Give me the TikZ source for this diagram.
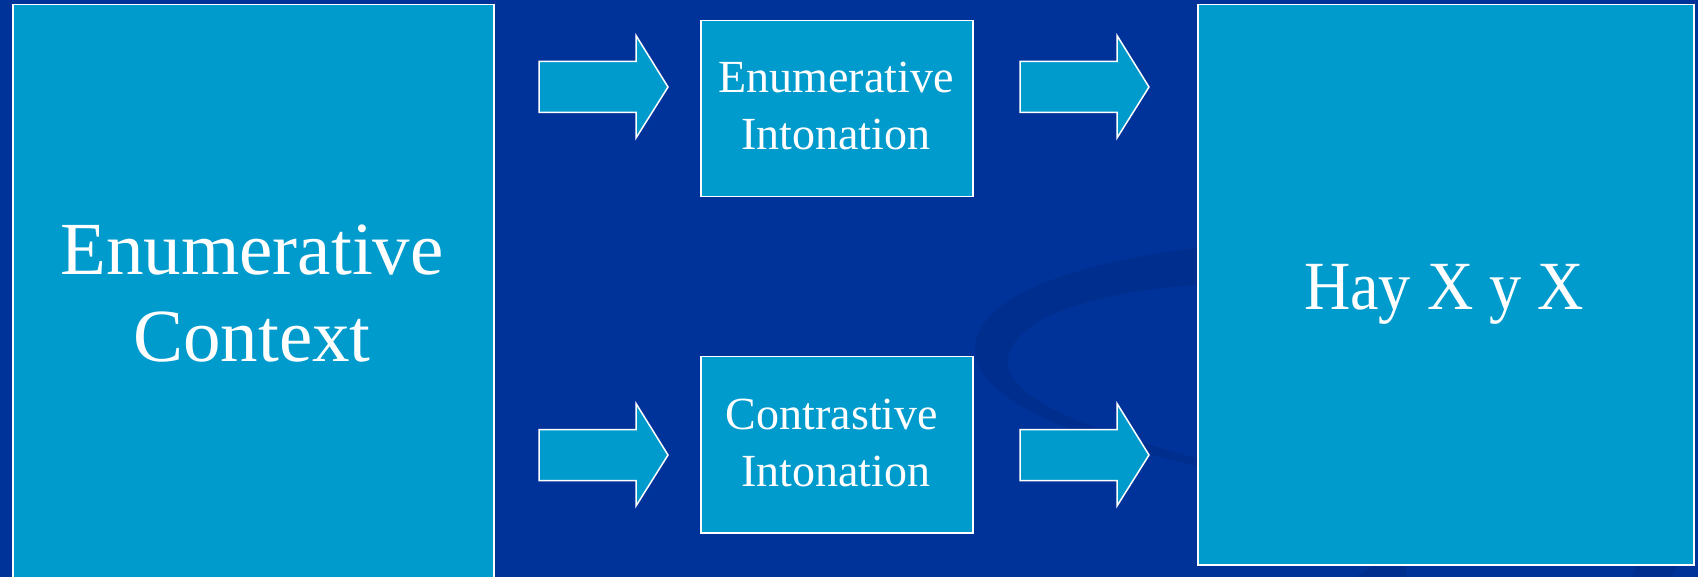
\documentclass[tikz,border=0pt]{standalone}
\usepackage{fontspec}
\setmainfont{Liberation Serif}
\definecolor{bgblue}{RGB}{0,51,153}
\definecolor{swoosh}{RGB}{0,46,142}
\definecolor{boxblue}{RGB}{0,155,205}
\tikzset{
  panel/.style={draw=white, line width=1.5pt, fill=boxblue, inner sep=0pt},
  blockarrow/.style={draw=white, line width=1.5pt, fill=boxblue, line join=miter},
  bigtxt/.style={text=white, font=\fontsize{75}{88}\selectfont, inner sep=0pt, anchor=base},
  midtxt/.style={text=white, font=\fontsize{69}{80}\selectfont, inner sep=0pt, anchor=base},
  smalltxt/.style={text=white, font=\fontsize{46}{57}\selectfont, inner sep=0pt, anchor=base},
}
\begin{document}
\begin{tikzpicture}[x=1pt,y=-1pt]
\useasboundingbox (0,0) rectangle (1698,577);
\fill[bgblue] (0,0) rectangle (1698,577);
% background swoosh
\fill[swoosh] (1197,248) .. controls (1080,262) and (975,295) .. (975,350)
  .. controls (975,400) and (1080,440) .. (1197,466)
  -- (1197,458) .. controls (1090,430) and (1008,400) .. (1008,362)
  .. controls (1008,320) and (1090,292) .. (1197,285) -- cycle;
\fill[swoosh] (1355,577) -- (1375,564) -- (1405,564) -- (1407,577) -- cycle;
\fill[swoosh] (1632,577) -- (1636,564) -- (1678,564) -- (1672,577) -- cycle;
% boxes
\node[panel, minimum width=481pt, minimum height=590pt, anchor=north west] (ctx) at (12,4) {};
\node[panel, minimum width=272pt, minimum height=176pt, anchor=north west] (enumint) at (700,20) {};
\node[panel, minimum width=272pt, minimum height=176pt, anchor=north west] (contint) at (700,356) {};
\node[panel, minimum width=496pt, minimum height=560pt, anchor=north west] (hay) at (1197,4) {};
% texts
\node[bigtxt] (ctxa) at (252,275) {Enumerative};
\node[bigtxt] (ctxb) at (252,362) {Context};
\node[smalltxt] (ena) at (836,93) {Enumerative};
\node[smalltxt] (enb) at (836,150) {Intonation};
\node[smalltxt] (coa) at (832,429) {Contrastive};
\node[smalltxt] (cob) at (836,486) {Intonation};
\node[midtxt] (hayt) at (1444,310) {\scalebox{0.93}[1]{Hay X y X}};
% block arrows
\foreach \xa/\yc in {539/87, 539/455, 1020/87, 1020/455}{
  \draw[blockarrow] (\xa,\yc-25.5) -- (\xa+97,\yc-25.5) -- (\xa+97,\yc-51.5)
    -- (\xa+129,\yc) -- (\xa+97,\yc+51) -- (\xa+97,\yc+25.5) -- (\xa,\yc+25.5) -- cycle;
}
\end{tikzpicture}
\end{document}
